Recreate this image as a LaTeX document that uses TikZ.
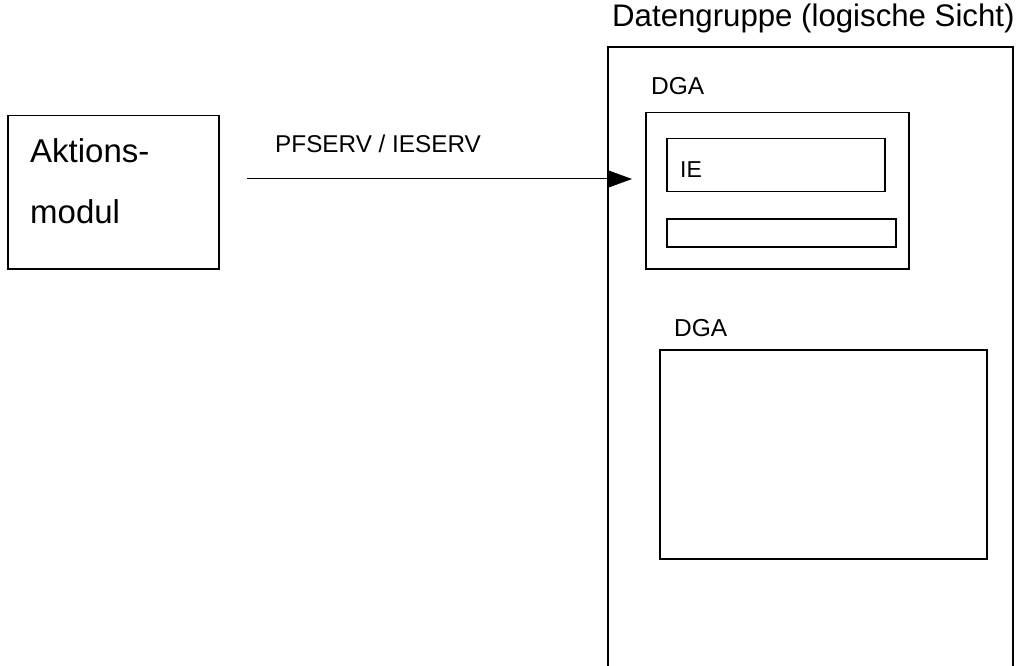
\documentclass[tikz,border=0pt]{standalone}
\usepackage{fontspec}
\setmainfont{Liberation Sans}
\usetikzlibrary{arrows.meta}
\begin{document}
\begin{tikzpicture}[x=1pt,y=-1pt,
  box/.style={draw,line width=1.5pt,rectangle,inner sep=0pt,anchor=north west},
  lbl/.style={anchor=base west,inner sep=0pt},
  conn/.style={line width=1pt,-{Triangle[length=25pt,width=18pt]}}]
\useasboundingbox (0,0) rectangle (1018,666);
% Aktionsmodul
\node[box,minimum width=211pt,minimum height=153pt] (akt) at (7,115) {};
\node[lbl,font=\fontsize{33}{60}\selectfont] (aktt1) at (30,163) {Aktions-};
\node[lbl,font=\fontsize{33}{60}\selectfont] (aktt2) at (30,223) {modul};
% outer group (open at bottom)
\coordinate (gbl) at (608,666);
\coordinate (gtl) at (608,47);
\coordinate (gtr) at (1013,47);
\coordinate (gbr) at (1013,666);
\draw[line width=1.5pt] (gbl) -- (gtl) -- (gtr) -- (gbr);
\node[lbl,font=\fontsize{31.2}{36}\selectfont] (title) at (612,27) {Datengruppe (logische Sicht)};
% DGA 1
\node[lbl,font=\fontsize{24.5}{28}\selectfont] (dga1t) at (651,95) {DGA};
\node[box,minimum width=263pt,minimum height=156pt] (dga1) at (645,112) {};
\node[box,minimum width=218pt,minimum height=53pt] (ie) at (666,138) {};
\node[lbl,font=\fontsize{23}{28}\selectfont] (iet) at (680,178) {IE};
\node[box,minimum width=229pt,minimum height=28pt] (empty) at (666,218) {};
% DGA 2
\node[lbl,font=\fontsize{24.5}{28}\selectfont] (dga2t) at (674,336) {DGA};
\node[box,minimum width=327pt,minimum height=209pt] (dga2) at (659,349) {};
% connector
\coordinate (arrS) at (247,179);
\coordinate (arrE) at (632,179);
\draw[conn] (arrS) -- (arrE);
\node[lbl,font=\fontsize{24.3}{28}\selectfont] (arrl) at (275,153) {PFSERV / IESERV};
\end{tikzpicture}
\end{document}
